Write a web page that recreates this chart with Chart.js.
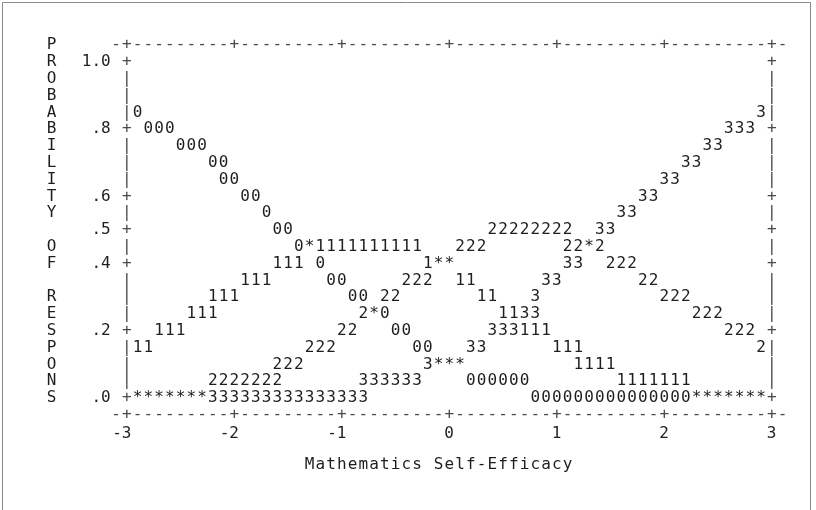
<!DOCTYPE html>
<html>
<head>
<meta charset="utf-8">
<script src="https://cdn.jsdelivr.net/npm/chart.js@4.4.0/dist/chart.umd.min.js"></script>
<style>
  html, body { margin: 0; padding: 0; background: #fff; }
  #wrap { width: 816px; height: 510px; position: relative; }
</style>
</head>
<body>
<div id="wrap"><canvas id="c" width="816" height="510"></canvas></div>
<script>
// ---- Data: [logit, probability] for every plotted character ----
const xTickValues = [-3, -2, -1, 0, 1, 2, 3];
const yTickValues = [0, 0.2, 0.4, 0.5, 0.6, 0.8, 1.0];
const yTickLabels = ['.0', '.2', '.4', '.5', '.6', '.8', '1.0'];
const yAxisLetters = 'PROBABILITY OF RESPONS';
const xTitle = 'Mathematics Self-Efficacy';
const categoryLabels = ['0', '1', '2', '3'];

const cat0 = [
  [-2.9,.85],
  [-2.8,.80],[-2.7,.80],[-2.6,.80],
  [-2.5,.75],[-2.4,.75],[-2.3,.75],
  [-2.2,.70],[-2.1,.70],
  [-2.1,.65],[-2.0,.65],
  [-1.9,.60],[-1.8,.60],
  [-1.7,.55],
  [-1.6,.50],[-1.5,.50],
  [-1.4,.45],[-1.3,.45],
  [-1.2,.40],
  [-1.1,.35],[-1.0,.35],
  [-0.9,.30],[-0.8,.30],
  [-0.7,.25],[-0.6,.25],
  [-0.5,.20],[-0.4,.20],
  [-0.3,.15],[-0.2,.15],
  [-0.1,.10],[0.0,.10],[0.1,.10],
  [0.2,.05],[0.3,.05],[0.4,.05],[0.5,.05],[0.6,.05],[0.7,.05],
  [0.8,0],[0.9,0],[1.0,0],[1.1,0],[1.2,0],[1.3,0],[1.4,0],[1.5,0],[1.6,0],[1.7,0],[1.8,0],
  [1.9,0],[2.0,0],[2.1,0],[2.2,0],[2.3,0],[2.4,0],[2.5,0],[2.6,0],[2.7,0],[2.8,0],[2.9,0]
];
const cat1 = [
  [-2.9,.15],[-2.8,.15],
  [-2.7,.20],[-2.6,.20],[-2.5,.20],
  [-2.4,.25],[-2.3,.25],[-2.2,.25],
  [-2.2,.30],[-2.1,.30],[-2.0,.30],
  [-1.9,.35],[-1.8,.35],[-1.7,.35],
  [-1.6,.40],[-1.5,.40],[-1.4,.40],
  [-1.3,.45],[-1.2,.45],[-1.1,.45],[-1.0,.45],[-0.9,.45],[-0.8,.45],[-0.7,.45],[-0.6,.45],
  [-0.5,.45],[-0.4,.45],[-0.3,.45],
  [-0.2,.40],[-0.1,.40],[0.0,.40],
  [0.1,.35],[0.2,.35],
  [0.3,.30],[0.4,.30],
  [0.5,.25],[0.6,.25],
  [0.7,.20],[0.8,.20],[0.9,.20],
  [1.0,.15],[1.1,.15],[1.2,.15],
  [1.2,.10],[1.3,.10],[1.4,.10],[1.5,.10],
  [1.6,.05],[1.7,.05],[1.8,.05],[1.9,.05],[2.0,.05],[2.1,.05],[2.2,.05],
  [2.3,0],[2.4,0],[2.5,0],[2.6,0],[2.7,0],[2.8,0],[2.9,0]
];
const cat2 = [
  [-2.9,0],[-2.8,0],[-2.7,0],[-2.6,0],[-2.5,0],[-2.4,0],[-2.3,0],
  [-2.2,.05],[-2.1,.05],[-2.0,.05],[-1.9,.05],[-1.8,.05],[-1.7,.05],[-1.6,.05],
  [-1.6,.10],[-1.5,.10],[-1.4,.10],
  [-1.3,.15],[-1.2,.15],[-1.1,.15],
  [-1.0,.20],[-0.9,.20],
  [-0.8,.25],[-0.7,.25],
  [-0.6,.30],[-0.5,.30],
  [-0.4,.35],[-0.3,.35],[-0.2,.35],
  [-0.1,.40],[0.0,.40],
  [0.1,.45],[0.2,.45],[0.3,.45],
  [0.4,.50],[0.5,.50],[0.6,.50],[0.7,.50],[0.8,.50],[0.9,.50],[1.0,.50],[1.1,.50],
  [1.1,.45],[1.2,.45],[1.3,.45],[1.4,.45],
  [1.5,.40],[1.6,.40],[1.7,.40],
  [1.8,.35],[1.9,.35],
  [2.0,.30],[2.1,.30],[2.2,.30],
  [2.3,.25],[2.4,.25],[2.5,.25],
  [2.6,.20],[2.7,.20],[2.8,.20],
  [2.9,.15]
];
const cat3 = [
  [-2.9,0],[-2.8,0],[-2.7,0],[-2.6,0],[-2.5,0],[-2.4,0],[-2.3,0],[-2.2,0],[-2.1,0],[-2.0,0],
  [-1.9,0],[-1.8,0],[-1.7,0],[-1.6,0],[-1.5,0],[-1.4,0],[-1.3,0],[-1.2,0],[-1.1,0],[-1.0,0],
  [-0.9,0],[-0.8,0],
  [-0.8,.05],[-0.7,.05],[-0.6,.05],[-0.5,.05],[-0.4,.05],[-0.3,.05],
  [-0.2,.10],[-0.1,.10],[0.0,.10],[0.1,.10],
  [0.2,.15],[0.3,.15],
  [0.4,.20],[0.5,.20],[0.6,.20],
  [0.7,.25],[0.8,.25],
  [0.8,.30],
  [0.9,.35],[1.0,.35],
  [1.1,.40],[1.2,.40],
  [1.3,.45],
  [1.4,.50],[1.5,.50],
  [1.6,.55],[1.7,.55],
  [1.8,.60],[1.9,.60],
  [2.0,.65],[2.1,.65],
  [2.2,.70],[2.3,.70],
  [2.4,.75],[2.5,.75],
  [2.6,.80],[2.7,.80],[2.8,.80],
  [2.9,.85]
];
const categorySeries = [cat0, cat1, cat2, cat3];

// ---- Styling ----
const FONT_FAMILY = '"DejaVu Sans Mono", "Liberation Mono", monospace';
const FONT_SIZE = 16;
const TEXT = '#1e1e1e';
const AXIS = '#4a4a4a';

const asciiPlugin = {
  id: 'asciiPlot',
  afterDatasetsDraw(chart) {
    const { ctx } = chart;
    const xs = chart.scales.x, ys = chart.scales.y;
    ctx.save();
    ctx.font = FONT_SIZE + 'px ' + FONT_FAMILY;
    ctx.textAlign = 'center';
    ctx.textBaseline = 'middle';
    const put = (ch, px, py, color) => { ctx.fillStyle = color; ctx.fillText(ch, px, py); };

    // outer frame of the picture
    ctx.strokeStyle = '#8a8a8a';
    ctx.lineWidth = 1;
    ctx.beginPath();
    ctx.moveTo(2.5, 512); ctx.lineTo(2.5, 2.5); ctx.lineTo(810.5, 2.5); ctx.lineTo(810.5, 512);
    ctx.stroke();

    // vertical axes drawn as '+' / '|' characters on each row
    for (let r = 0; r <= 20; r++) {
      const p = 1 - r * 0.05;
      const isTick = yTickValues.some(v => Math.abs(v - p) < 1e-6);
      const ch = isTick ? '+' : '|';
      put(ch, xs.getPixelForValue(-3), ys.getPixelForValue(p), AXIS);
      put(ch, xs.getPixelForValue(3), ys.getPixelForValue(p), AXIS);
    }
    // top & bottom dashed rules
    for (let c = -1; c <= 61; c++) {
      const v = -3 + c / 10;
      const ch = (c % 10 === 0) ? '+' : '-';
      put(ch, xs.getPixelForValue(v), ys.getPixelForValue(1.05), AXIS);
      put(ch, xs.getPixelForValue(v), ys.getPixelForValue(-0.05), AXIS);
    }
    // vertical axis title, one letter per row
    for (let i = 0; i < yAxisLetters.length; i++) {
      const ch = yAxisLetters[i];
      if (ch === ' ') continue;
      put(ch, xs.getPixelForValue(-3.7), ys.getPixelForValue(1.05 - i * 0.05), TEXT);
    }
    // x axis title, monospaced on the column grid
    for (let i = 0; i < xTitle.length; i++) {
      const ch = xTitle[i];
      if (ch === ' ') continue;
      put(ch, xs.getPixelForValue(-3 + (17 + i) / 10), ys.getPixelForValue(-0.2), TEXT);
    }

    // data characters: category digit, or '*' where categories share a cell
    const cells = new Map();
    chart.data.datasets.forEach((ds, di) => {
      const meta = chart.getDatasetMeta(di);
      meta.data.forEach((el, i) => {
        const d = ds.data[i];
        const key = Math.round(d.x * 10) + '|' + Math.round(d.y * 20);
        if (!cells.has(key)) cells.set(key, { px: el.x, py: el.y, cats: [] });
        cells.get(key).cats.push(categoryLabels[di]);
      });
    });
    cells.forEach(cell => {
      const ch = cell.cats.length > 1 ? '*' : cell.cats[0];
      put(ch, cell.px, cell.py, TEXT);
    });
    ctx.restore();
  }
};

const tickFont = { family: FONT_FAMILY, size: FONT_SIZE };

new Chart(document.getElementById('c').getContext('2d'), {
  type: 'scatter',
  data: {
    datasets: categorySeries.map((s, i) => ({
      label: categoryLabels[i],
      data: s.map(([x, y]) => ({ x, y })),
      pointRadius: 0,
      pointHoverRadius: 0,
      showLine: false
    }))
  },
  options: {
    responsive: false,
    animation: false,
    events: [],
    layout: { padding: { top: 62, right: 44.3, left: 0, bottom: 0 } },
    plugins: { legend: { display: false }, tooltip: { enabled: false }, title: { display: false } },
    scales: {
      x: {
        type: 'linear', min: -3, max: 3,
        afterBuildTicks: s => { s.ticks = xTickValues.map(v => ({ value: v })); },
        afterFit: s => { s.height = 112; },
        grid: { display: false, drawTicks: false },
        border: { display: false },
        ticks: {
          font: tickFont, color: TEXT, padding: 26, labelOffset: 4.8, align: 'end',
          maxRotation: 0, autoSkip: false,
          callback: v => String(v)
        }
      },
      y: {
        type: 'linear', min: 0, max: 1,
        afterBuildTicks: s => { s.ticks = yTickValues.map(v => ({ value: v })); },
        afterFit: s => { s.width = 126.7; },
        grid: { display: false, drawTicks: false },
        border: { display: false },
        ticks: {
          font: tickFont, color: TEXT, padding: 16, autoSkip: false,
          callback: v => {
            const i = yTickValues.findIndex(t => Math.abs(t - v) < 1e-9);
            return i >= 0 ? yTickLabels[i] : '';
          }
        }
      }
    }
  },
  plugins: [asciiPlugin]
});
</script>
</body>
</html>
